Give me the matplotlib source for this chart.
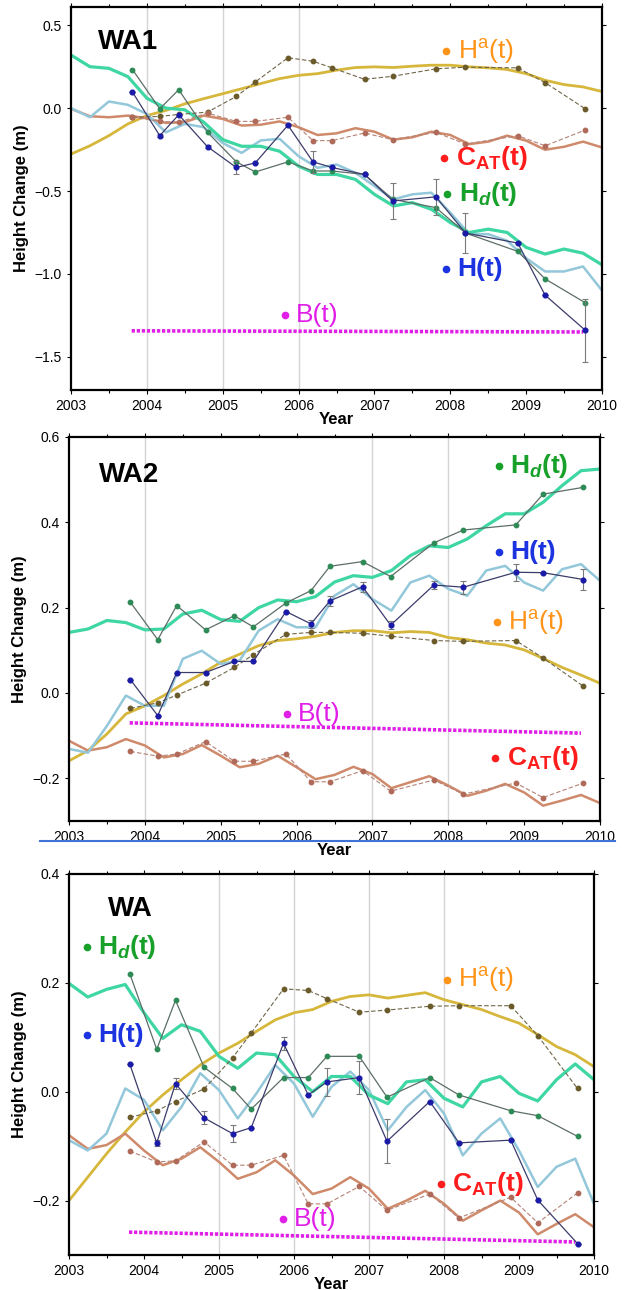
import numpy as np
import matplotlib
matplotlib.use("Agg")
from matplotlib import pyplot as plt
from matplotlib.lines import Line2D

plt.rcParams["font.family"] = ["Liberation Sans", "DejaVu Sans"]
plt.rcParams["mathtext.fontset"] = "custom"
plt.rcParams["mathtext.rm"] = "Liberation Sans"
plt.rcParams["mathtext.it"] = "Liberation Sans:italic"
plt.rcParams["mathtext.bf"] = "Liberation Sans:bold"
plt.rcParams["mathtext.bfit"] = "Liberation Sans:italic:bold"

# campaign epochs (points) and the grid of the fitted curves
T_CAMP = [2003.81, 2004.17, 2004.42, 2004.80, 2005.18, 2005.43, 2005.86, 2006.19,
          2006.44, 2006.87, 2007.24, 2007.81, 2008.20, 2008.89, 2009.25, 2009.78]
T_FIT = np.arange(2003.0, 2010.01, 0.25)
T_B = [2003.8, 2009.75]

# ---- WA1 ----
WA1_HD_FIT = [0.32, 0.25, 0.24, 0.19, 0.06, 0.0, -0.01, -0.085, -0.19, -0.23, -0.23, -0.26,
              -0.35, -0.40, -0.40, -0.43, -0.52, -0.59, -0.57, -0.61, -0.69, -0.75, -0.73,
              -0.75, -0.84, -0.88, -0.85, -0.875, -0.945]
WA1_H_FIT = [0.0, -0.055, 0.04, 0.02, -0.035, -0.146, -0.095, -0.115, -0.21, -0.27, -0.195,
             -0.185, -0.29, -0.36, -0.34, -0.39, -0.47, -0.55, -0.52, -0.51, -0.63, -0.76,
             -0.76, -0.80, -0.905, -0.985, -0.985, -0.955, -1.10]
WA1_HA_FIT = [-0.277, -0.227, -0.166, -0.095, -0.045, -0.014, 0.026, 0.057, 0.087, 0.117,
              0.148, 0.178, 0.198, 0.208, 0.229, 0.245, 0.249, 0.245, 0.253, 0.259, 0.259,
              0.249, 0.243, 0.233, 0.208, 0.168, 0.142, 0.128, 0.10]
WA1_CAT_FIT = [-0.004, -0.049, -0.055, -0.045, -0.061, -0.089, -0.085, -0.045, -0.065, -0.105,
               -0.10, -0.08, -0.115, -0.162, -0.152, -0.121, -0.142, -0.19, -0.176, -0.142,
               -0.162, -0.217, -0.202, -0.166, -0.196, -0.251, -0.233, -0.202, -0.237]
WA1_HD_PTS = [0.233, -0.004, 0.111, -0.146, -0.324, -0.385, -0.324, -0.379, -0.379, -0.40,
              -0.55, -0.60, -0.753, -0.864, -1.03, -1.174]
WA1_H_PTS = [0.097, -0.166, -0.04, -0.233, -0.358, -0.33, -0.103, -0.324, -0.358, -0.40,
             -0.56, -0.535, -0.753, -0.814, -1.128, -1.34]
WA1_HA_PTS = [-0.055, -0.05, -0.038, -0.024, 0.071, 0.158, 0.304, 0.283, 0.243, 0.174,
              0.192, 0.237, 0.247, 0.243, 0.154, -0.004]
WA1_CAT_PTS = [-0.055, -0.08, -0.085, -0.03, -0.08, -0.08, -0.055, -0.196, -0.196, -0.15,
               -0.19, -0.146, -0.217, -0.166, -0.227, -0.132]
WA1_H_ERR = [0, 0.01, 0, 0.01, 0.04, 0, 0, 0.065, 0, 0, 0.11, 0.11, 0.12, 0, 0, 0.19]
WA1_B = [-1.343, -1.35]

# ---- WA2 ----
WA2_HD_FIT = [0.142, 0.15, 0.17, 0.165, 0.148, 0.15, 0.185, 0.194, 0.172, 0.168, 0.2, 0.218,
              0.214, 0.226, 0.26, 0.275, 0.271, 0.287, 0.322, 0.345, 0.341, 0.361, 0.392,
              0.42, 0.42, 0.447, 0.486, 0.521, 0.525]
WA2_H_FIT = [-0.131, -0.14, -0.077, -0.006, -0.03, -0.03, 0.08, 0.099, 0.068, 0.076, 0.146,
             0.173, 0.154, 0.154, 0.228, 0.255, 0.22, 0.193, 0.259, 0.275, 0.244, 0.228,
             0.287, 0.298, 0.259, 0.24, 0.29, 0.302, 0.263]
WA2_HA_FIT = [-0.159, -0.135, -0.096, -0.049, -0.03, -0.006, 0.021, 0.045, 0.072, 0.091,
              0.111, 0.123, 0.127, 0.133, 0.142, 0.146, 0.146, 0.141, 0.144, 0.142, 0.13,
              0.125, 0.117, 0.1125, 0.101, 0.081, 0.06, 0.042, 0.023]
WA2_CAT_FIT = [-0.112, -0.135, -0.127, -0.108, -0.123, -0.151, -0.143, -0.122, -0.147, -0.174,
               -0.166, -0.147, -0.174, -0.202, -0.192, -0.173, -0.19, -0.223, -0.209, -0.195,
               -0.217, -0.241, -0.229, -0.213, -0.233, -0.264, -0.252, -0.239, -0.258]
WA2_HD_PTS = [0.2125, 0.125, 0.205, 0.148, 0.181, 0.155, 0.211, 0.24, 0.297, 0.308, 0.273,
              0.352, 0.382, 0.394, 0.466, 0.482]
WA2_H_PTS = [0.031, -0.053, 0.048, 0.048, 0.074, 0.074, 0.191, 0.162, 0.216, 0.249, 0.159,
             0.253, 0.248, 0.283, 0.282, 0.266]
WA2_HA_PTS = [-0.036, -0.023, -0.005, 0.023, 0.06, 0.09, 0.1375, 0.142, 0.142, 0.14, 0.133,
              0.123, 0.121, 0.123, 0.082, 0.016]
WA2_CAT_PTS = [-0.137, -0.148, -0.143, -0.114, -0.16, -0.16, -0.143, -0.208, -0.208, -0.182,
               -0.23, -0.204, -0.237, -0.211, -0.245, -0.211]
WA2_H_ERR = [0, 0, 0, 0, 0, 0, 0, 0.01, 0.012, 0.012, 0.01, 0.01, 0.015, 0.02, 0, 0.025]
WA2_B = [-0.07, -0.094]

# ---- WA ----
WA_HD_FIT = [0.199, 0.174, 0.188, 0.197, 0.145, 0.098, 0.123, 0.111, 0.065, 0.043, 0.071,
             0.068, 0.028, 0.0, 0.028, 0.028, -0.006, -0.022, 0.018, 0.022, -0.012, -0.028,
             0.018, 0.028, -0.003, -0.017, 0.022, 0.051, 0.022]
WA_H_FIT = [-0.089, -0.108, -0.077, 0.006, -0.015, -0.071, -0.028, 0.034, 0.003, -0.049,
            -0.003, 0.049, 0.015, -0.046, 0.009, 0.037, 0.003, -0.071, -0.028, 0.003, -0.04,
            -0.117, -0.077, -0.049, -0.108, -0.175, -0.138, -0.123, -0.206]
WA_HA_FIT = [-0.2, -0.157, -0.114, -0.074, -0.037, -0.006, 0.022, 0.049, 0.071, 0.089, 0.111,
             0.132, 0.145, 0.151, 0.166, 0.175, 0.178, 0.172, 0.177, 0.182, 0.169, 0.16,
             0.151, 0.138, 0.126, 0.105, 0.083, 0.068, 0.046]
WA_CAT_FIT = [-0.08, -0.105, -0.098, -0.077, -0.108, -0.135, -0.123, -0.102, -0.129, -0.16,
              -0.148, -0.126, -0.154, -0.188, -0.178, -0.157, -0.178, -0.215, -0.2, -0.182,
              -0.206, -0.237, -0.218, -0.2, -0.222, -0.262, -0.243, -0.225, -0.249]
WA_HD_PTS = [0.217, 0.078, 0.168, 0.045, 0.006, -0.032, 0.026, 0.026, 0.065, 0.065, -0.01,
             0.026, -0.006, -0.035, -0.044, -0.082]
WA_H_PTS = [0.051, -0.094, 0.015, -0.048, -0.077, -0.066, 0.089, -0.006, 0.018, 0.026,
            -0.091, -0.018, -0.094, -0.089, -0.199, -0.279]
WA_HA_PTS = [-0.047, -0.035, -0.018, 0.005, 0.062, 0.108, 0.189, 0.186, 0.171, 0.146, 0.15,
             0.157, 0.158, 0.158, 0.103, 0.006]
WA_CAT_PTS = [-0.109, -0.129, -0.127, -0.092, -0.135, -0.135, -0.117, -0.206, -0.206, -0.174,
              -0.218, -0.188, -0.232, -0.194, -0.241, -0.186]
WA_H_ERR = [0, 0.005, 0.01, 0.012, 0.015, 0, 0.012, 0, 0.025, 0.03, 0.04, 0, 0, 0, 0, 0]
WA_B = [-0.258, -0.276]

HA_LABEL = "H$^{\\mathrm{a}}$(t)"
CAT_LABEL = "C$_{\\mathbf{AT}}$(t)"
HD_LABEL = "H$_{\\mathbfit{d}}$(t)"
H_LABEL = "H(t)"
B_LABEL = "B(t)"


def draw_panel(ax, name, name_xy, fits, pts, h_err, b_vals, ylim, yticks, grid_years, labels):
    hd_fit, h_fit, ha_fit, cat_fit = fits
    hd_pts, h_pts, ha_pts, cat_pts = pts
    for g in grid_years:
        ax.axvline(g, color="#d4d4d4", lw=1.0, zorder=0)

    kw = dict(solid_joinstyle="round", solid_capstyle="round", zorder=2)
    ax.plot(T_FIT, ha_fit, color="#d6b73c", lw=2.0, **kw)
    ax.plot(T_FIT, cat_fit, color="#cf8a6c", lw=1.8, **kw)
    ax.plot(T_FIT, h_fit, color="#93c7da", lw=1.8, **kw)
    ax.plot(T_FIT, hd_fit, color="#3ed6a2", lw=2.3, **kw)

    ax.plot(T_CAMP, ha_pts, color="#6f6648", lw=0.8, ls=(0, (4, 2)), marker="o", ms=3.2,
            mfc="#6b5a2a", mec="#6b5a2a", zorder=3)
    ax.plot(T_CAMP, cat_pts, color="#b48276", lw=0.8, ls=(0, (4, 2)), marker="o", ms=3.2,
            mfc="#b06a5a", mec="#b06a5a", zorder=3)
    ax.plot(T_CAMP, hd_pts, color="#5d6e66", lw=0.9, marker="o", ms=3.2,
            mfc="#2e8b57", mec="#2e8b57", zorder=3)
    ax.errorbar(T_CAMP, h_pts, yerr=h_err, fmt="none", ecolor="#7a7a7a", elinewidth=0.8,
                capsize=2.5, capthick=0.8, zorder=3)
    ax.plot(T_CAMP, h_pts, color="#3c3c6c", lw=0.9, marker="o", ms=3.4,
            mfc="#1a1aa8", mec="#1a1aa8", zorder=4)

    ax.plot(T_B, b_vals, color="#e01ee8", lw=2.6, ls=(0, (0.9, 0.5)), zorder=3)

    ax.text(name_xy[0], name_xy[1], name, fontsize=20, fontweight="bold", va="center")
    for txt, x, y, col, wt in labels:
        # small bullet, then the label itself
        ax.plot([x], [y], "o", ms=4.5, color=col, zorder=5)
        ax.text(x + 0.15, y, txt, color=col, fontsize=19, fontweight=wt, va="center", ha="left")

    ax.set_xlim(2003, 2010)
    ax.set_ylim(*ylim)
    ax.set_xticks(range(2003, 2011))
    ax.set_yticks(yticks)
    ax.set_xticks(np.arange(2003.5, 2010, 1.0), minor=True)
    ax.tick_params(which="both", direction="out", labelsize=10, top=True, right=True,
                   length=3, width=0.8)
    ax.tick_params(which="minor", length=2.5)
    for s in ax.spines.values():
        s.set_linewidth(1.6)
    ax.set_xlabel("Year", fontsize=12, fontweight="bold", labelpad=-1)
    ax.set_ylabel("Height Change (m)", fontsize=12, fontweight="bold", labelpad=4)


W, H = 628, 1290
fig = plt.figure(figsize=(W / 100, H / 100), dpi=100)


def add_axes(left, right, top, bottom):
    return fig.add_axes([left / W, 1 - bottom / H, (right - left) / W, (bottom - top) / H])


# label entries: text, bullet x, bullet y, colour, weight
ax1 = add_axes(71, 602, 7, 390)
draw_panel(ax1, "WA1", (2003.36, 0.40),
           (WA1_HD_FIT, WA1_H_FIT, WA1_HA_FIT, WA1_CAT_FIT),
           (WA1_HD_PTS, WA1_H_PTS, WA1_HA_PTS, WA1_CAT_PTS),
           WA1_H_ERR, WA1_B, (-1.70, 0.61), [-1.5, -1.0, -0.5, 0.0, 0.5],
           [2004, 2005, 2006],
           [(HA_LABEL, 2007.95, 0.344, "#ff9418", "normal"),
            (CAT_LABEL, 2007.92, -0.298, "#ff1c1c", "bold"),
            (HD_LABEL, 2007.96, -0.52, "#17a02a", "bold"),
            (H_LABEL, 2007.94, -0.97, "#1c34e0", "bold"),
            (B_LABEL, 2005.82, -1.25, "#e01ee8", "normal")])

ax2 = add_axes(69, 600, 437, 821)
draw_panel(ax2, "WA2", (2003.39, 0.51),
           (WA2_HD_FIT, WA2_H_FIT, WA2_HA_FIT, WA2_CAT_FIT),
           (WA2_HD_PTS, WA2_H_PTS, WA2_HA_PTS, WA2_CAT_PTS),
           WA2_H_ERR, WA2_B, (-0.30, 0.60), [-0.2, 0.0, 0.2, 0.4, 0.6],
           [2004, 2007, 2008],
           [(HD_LABEL, 2008.67, 0.531, "#17a02a", "bold"),
            (H_LABEL, 2008.67, 0.33, "#1c34e0", "bold"),
            (HA_LABEL, 2008.64, 0.166, "#ff9418", "normal"),
            (CAT_LABEL, 2008.62, -0.153, "#ff1c1c", "bold"),
            (B_LABEL, 2005.87, -0.049, "#e01ee8", "normal")])

ax3 = add_axes(69, 594, 874, 1255)
draw_panel(ax3, "WA", (2003.52, 0.335),
           (WA_HD_FIT, WA_H_FIT, WA_HA_FIT, WA_CAT_FIT),
           (WA_HD_PTS, WA_H_PTS, WA_HA_PTS, WA_CAT_PTS),
           WA_H_ERR, WA_B, (-0.30, 0.40), [-0.2, 0.0, 0.2, 0.4],
           [2005, 2006, 2007, 2008],
           [(HD_LABEL, 2003.24, 0.266, "#17a02a", "bold"),
            (H_LABEL, 2003.24, 0.105, "#1c34e0", "bold"),
            (HA_LABEL, 2008.04, 0.206, "#ff9418", "normal"),
            (CAT_LABEL, 2007.96, -0.169, "#ff1c1c", "bold"),
            (B_LABEL, 2005.85, -0.234, "#e01ee8", "normal")])

# stray blue rule under the middle panel
fig.add_artist(Line2D([40 / W, 615 / W], [1 - 841 / H, 1 - 841 / H], color="#3f72d6", lw=1.5))

fig.savefig("out.png", dpi=100)
